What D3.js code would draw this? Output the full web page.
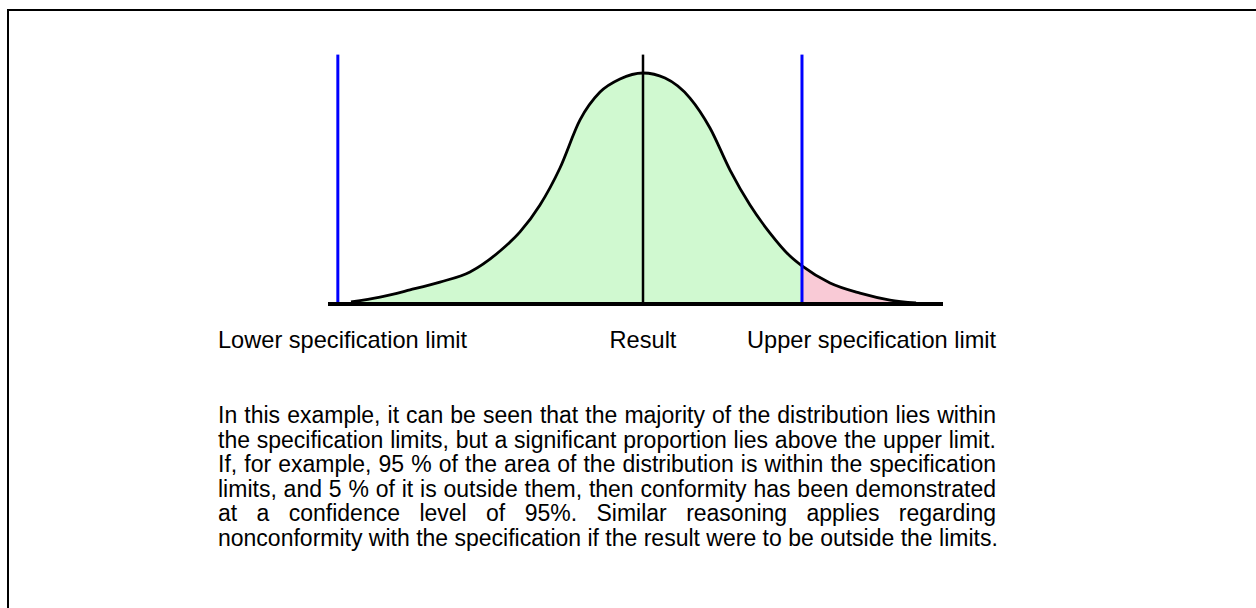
<!DOCTYPE html>
<meta charset="utf-8">
<style>
  html, body { margin: 0; padding: 0; background: #fff; }
  body { width: 1256px; height: 608px; overflow: hidden; position: relative; font-family: "Liberation Sans Narrow", "Arial Narrow", sans-serif; }
  .frame {
    position: absolute; left: 7px; top: 9px; width: 1400px; height: 700px;
    border-left: 2px solid #000; border-top: 2px solid #000;
  }
  #chart { position: absolute; left: 0; top: 0; }
  .note {
    position: absolute; left: 218px; top: 403px; width: 778px;
    font-size: 23px; line-height: 24.6px; color: #000;
  }
  .note div { text-align: justify; text-align-last: justify; white-space: nowrap; }
  .note div.last { text-align-last: left; }
</style>
<body>
  <div class="frame"></div>
  <div id="chart"></div>
  <div class="note" id="note"></div>

  <script src="https://d3js.org/d3.v7.min.js"></script>
  <script>
    const xVals   = [3.74, 8.46, 13.33, 18.21, 23.09, 27.97, 31.22, 34.47, 37.72, 40.98, 44.23, 47.48, 51.22,
                     54.80, 58.86, 62.11, 65.37, 68.62, 71.87, 75.12, 77.07, 81.63, 86.50, 91.38, 95.61];
    const density = [0.005, 0.026, 0.057, 0.091, 0.135, 0.226, 0.309, 0.426, 0.587, 0.796, 0.917, 0.974, 1.0,
                     0.978, 0.891, 0.761, 0.578, 0.426, 0.304, 0.204, 0.161, 0.087, 0.043, 0.013, 0.0];

    const lowerLimit = 1.6;
    const resultValue = 51.22;
    const upperLimit = 77.07;

    const labels = ["Lower specification limit", "Result", "Upper specification limit"];

    const noteLines = [
      "In this example, it can be seen that the majority of the distribution lies within",
      "the specification limits, but a significant proportion lies above the upper limit.",
      "If, for example, 95 % of the area of the distribution is within the specification",
      "limits, and 5 % of it is outside them, then conformity has been demonstrated",
      "at a confidence level of 95%. Similar reasoning applies regarding",
      "nonconformity with the specification if the result were to be outside the limits."
    ];

    const data = xVals.map((x, i) => ({x: x, y: density[i]}));

    const width = 1256, height = 608;
    const svg = d3.select("#chart").append("svg")
      .attr("width", width)
      .attr("height", height);

    const x = d3.scaleLinear().domain([0, 100]).range([328, 943]);
    const y = d3.scaleLinear().domain([0, 1]).range([303, 73]);

    const area = d3.area()
      .x(d => x(d.x))
      .y0(y(0))
      .y1(d => y(d.y))
      .curve(d3.curveMonotoneX);

    const line = d3.line()
      .x(d => x(d.x))
      .y(d => y(d.y))
      .curve(d3.curveMonotoneX);

    const defs = svg.append("defs");
    defs.append("clipPath").attr("id", "inside")
      .append("rect")
      .attr("x", 0).attr("y", 0)
      .attr("width", x(upperLimit)).attr("height", height);
    defs.append("clipPath").attr("id", "outside")
      .append("rect")
      .attr("x", x(upperLimit)).attr("y", 0)
      .attr("width", width - x(upperLimit)).attr("height", height);

    svg.append("path")
      .datum(data)
      .attr("d", area)
      .attr("fill", "#d0f9d0")
      .attr("clip-path", "url(#inside)");

    svg.append("path")
      .datum(data)
      .attr("d", area)
      .attr("fill", "#f9cad6")
      .attr("clip-path", "url(#outside)");

    svg.append("path")
      .datum(data)
      .attr("d", line)
      .attr("fill", "none")
      .attr("stroke", "#000")
      .attr("stroke-width", 2.8);

    // limit lines
    svg.selectAll(".limit")
      .data([lowerLimit, upperLimit])
      .join("line")
      .attr("class", "limit")
      .attr("x1", d => x(d)).attr("x2", d => x(d))
      .attr("y1", y(1.08)).attr("y2", y(0))
      .attr("stroke", "#0000ff")
      .attr("stroke-width", 3);

    svg.append("line")
      .attr("x1", x(resultValue)).attr("x2", x(resultValue))
      .attr("y1", y(1.08)).attr("y2", y(0))
      .attr("stroke", "#000")
      .attr("stroke-width", 2.5);

    // baseline
    svg.append("line")
      .attr("x1", x(0)).attr("x2", x(100))
      .attr("y1", y(0) + 1).attr("y2", y(0) + 1)
      .attr("stroke", "#000")
      .attr("stroke-width", 4);

    // labels under the axis
    const labelX = [218, x(resultValue), 747];
    const anchors = ["start", "middle", "start"];
    svg.selectAll(".lbl")
      .data(labels)
      .join("text")
      .attr("class", "lbl")
      .attr("x", (d, i) => labelX[i])
      .attr("y", 348)
      .attr("text-anchor", (d, i) => anchors[i])
      .style("font-family", "'Liberation Sans Narrow', 'Arial Narrow', sans-serif")
      .style("font-size", "23.6px")
      .text(d => d);

    d3.select("#note").selectAll("div")
      .data(noteLines)
      .join("div")
      .attr("class", (d, i) => i === noteLines.length - 1 ? "last" : null)
      .text(d => d);
  </script>
</body>
</html>
